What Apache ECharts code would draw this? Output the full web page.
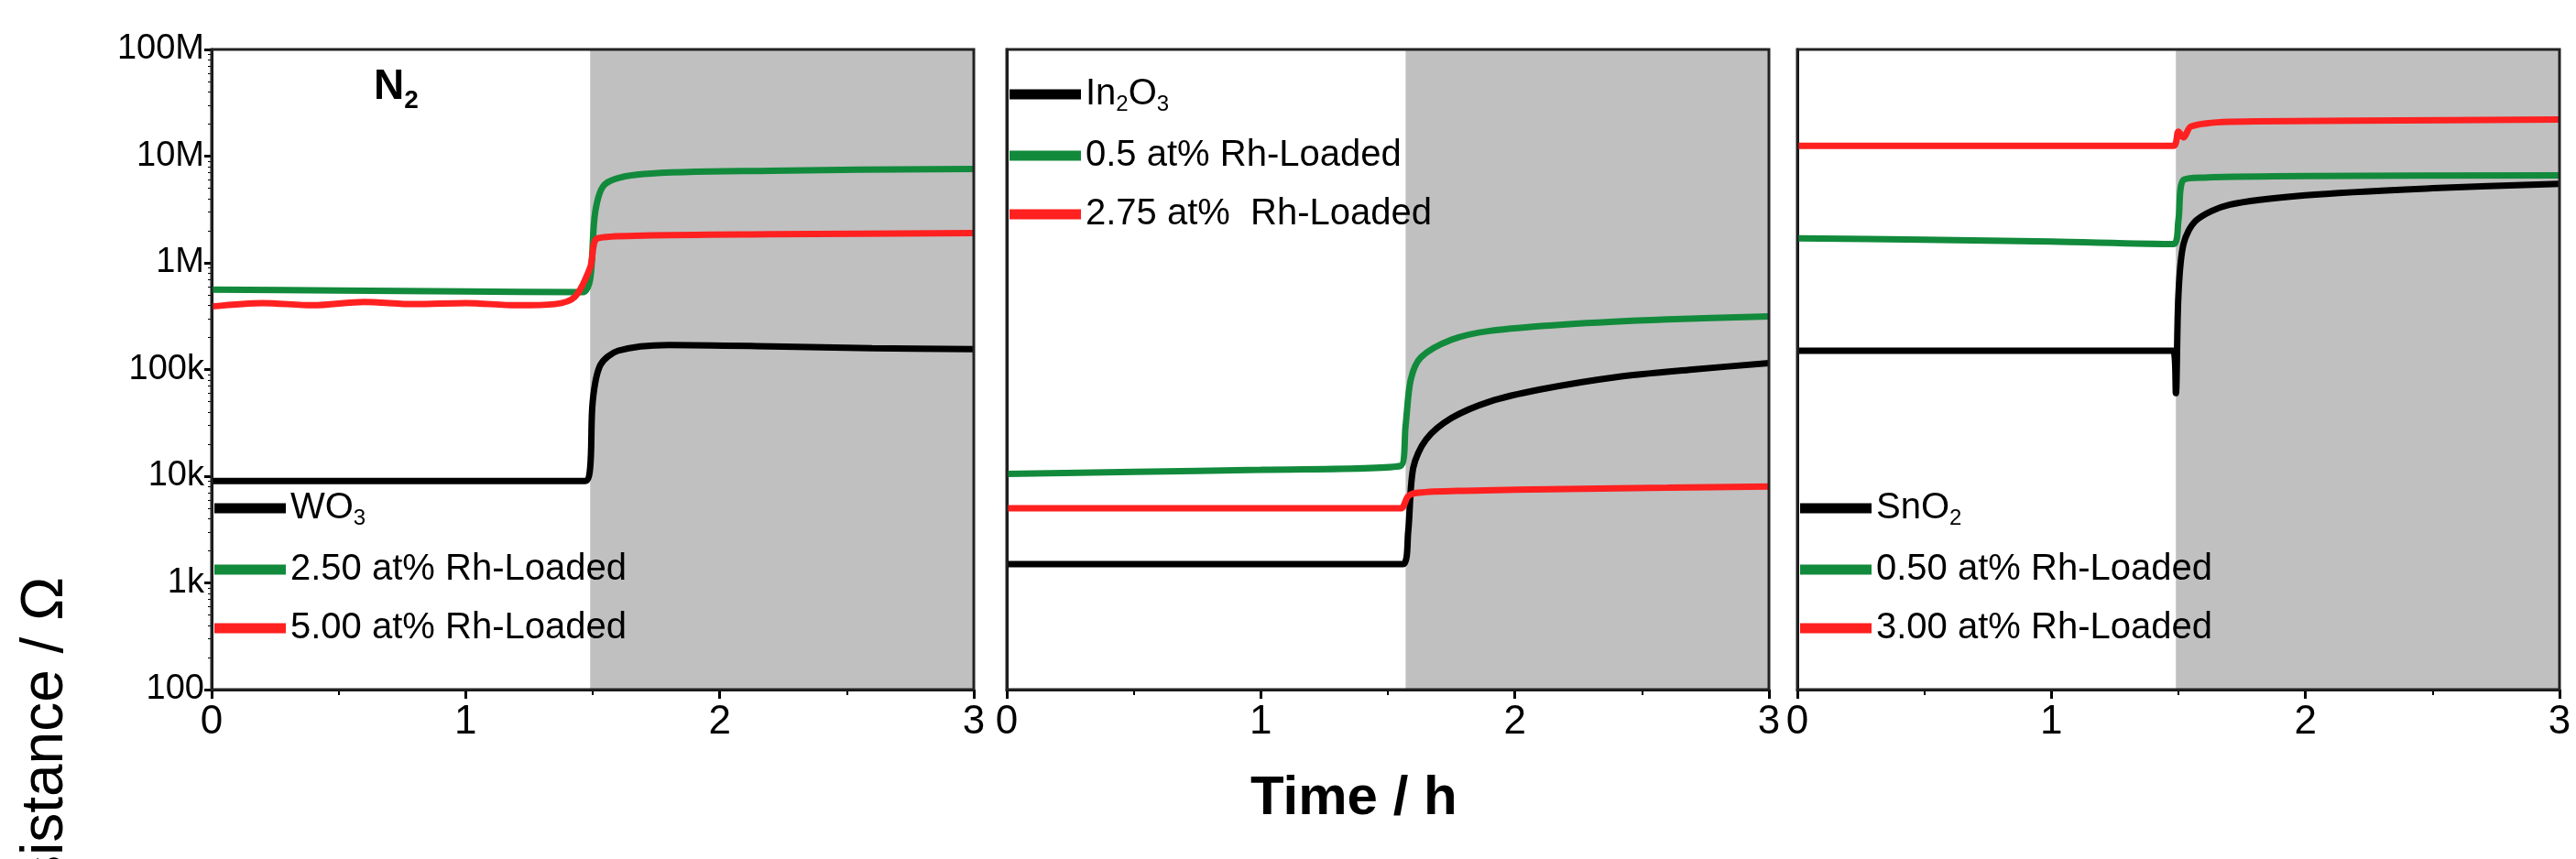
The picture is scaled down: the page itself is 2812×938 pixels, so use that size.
<!DOCTYPE html>
<html><head><meta charset="utf-8">
<script src="https://cdn.jsdelivr.net/npm/echarts@6/dist/echarts.min.js"></script>
<style>html,body{margin:0;background:#fff}#c{width:2812px;height:938px}</style>
</head><body><div id="c"></div>
<script>
// Panel (a) WO3
const a_wo3 = [[0,9000],[0.5,9000],[1,9000],[1.47,9000],[1.49,12000],[1.5,50000],[1.53,110000],[1.6,150000],[1.8,170000],[2.2,165000],[2.6,158000],[3,155000]];
const a_rh250 = [[0,560000],[0.5,550000],[1,540000],[1.46,530000],[1.49,700000],[1.51,3000000],[1.55,5500000],[1.7,6800000],[2.2,7300000],[3,7600000]];
const a_rh500 = [[0,390000],[0.2,420000],[0.4,400000],[0.6,430000],[0.8,410000],[1.0,420000],[1.2,400000],[1.35,410000],[1.43,480000],[1.49,900000],[1.52,1700000],[1.7,1800000],[2.2,1850000],[3,1900000]];
// Panel (b) In2O3
const b_in2o3 = [[0,1500],[0.5,1500],[1,1500],[1.56,1500],[1.58,3000],[1.6,12000],[1.65,22000],[1.75,35000],[1.9,50000],[2.1,65000],[2.4,85000],[2.7,100000],[3,115000]];
const b_rh05 = [[0,10500],[0.5,11000],[1,11500],[1.55,12500],[1.57,30000],[1.59,80000],[1.63,130000],[1.75,190000],[1.9,230000],[2.2,265000],[2.6,295000],[3,315000]];
const b_rh275 = [[0,5000],[0.5,5000],[1,5000],[1.55,5000],[1.58,6500],[1.62,7000],[1.8,7300],[2.2,7600],[2.6,7800],[3,8000]];
// Panel (c) SnO2
const c_sno2 = [[0,150000],[0.5,150000],[1,150000],[1.48,150000],[1.49,60000],[1.5,500000],[1.52,1500000],[1.57,2500000],[1.7,3500000],[2.0,4300000],[2.5,5000000],[3,5500000]];
const c_rh050 = [[0,1700000],[0.5,1650000],[1,1580000],[1.48,1500000],[1.5,2500000],[1.52,6000000],[1.6,6300000],[2,6500000],[3,6600000]];
const c_rh300 = [[0,12500000],[0.5,12500000],[1,12500000],[1.48,12500000],[1.5,17000000],[1.52,15000000],[1.55,19000000],[1.7,21000000],[2.2,21500000],[3,22000000]];
const yTicks = {100:'100',1000:'1k',10000:'10k',100000:'100k',1000000:'1M',10000000:'10M',100000000:'100M'};
const airStart = [1.49, 1.57, 1.49];
const names = [['WO{s|3}','2.50 at% Rh-Loaded','5.00 at% Rh-Loaded'],
               ['In{s|2}O{s|3}','0.5 at% Rh-Loaded','2.75 at%  Rh-Loaded'],
               ['SnO{s|2}','0.50 at% Rh-Loaded','3.00 at% Rh-Loaded']];
const data = [[a_wo3,a_rh250,a_rh500],[b_in2o3,b_rh05,b_rh275],[c_sno2,c_rh050,c_rh300]];
const colors = ['#000000','#128a3c','#ff2020'];
const lefts = [231,1099,1962], W = 832, gTop = 54, H = 699;
const F = 'Liberation Sans, Arial, sans-serif';
const grid=[],xAxis=[],yAxis=[],series=[],legend=[];
for (let p=0;p<3;p++){
  grid.push({left:lefts[p],top:gTop,width:W,height:H});
  xAxis.push({gridIndex:p,type:'value',min:0,max:3,interval:1,
    axisLine:{onZero:false,lineStyle:{color:'#000',width:3}},
    axisTick:{show:true,length:10,inside:false,lineStyle:{width:3}},
    minorTick:{show:true,splitNumber:2,length:6,lineStyle:{color:'#000',width:2}},
    splitLine:{show:false},
    axisLabel:{color:'#000',fontSize:44,fontFamily:F,margin:14}});
  yAxis.push({gridIndex:p,type:'log',min:100,max:1e8,logBase:10,
    axisLine:{show:true,lineStyle:{color:'#000',width:3}},
    axisTick:{show:p===0,length:8,lineStyle:{width:3}},
    minorTick:{show:p===0,splitNumber:9,length:4,lineStyle:{color:'#000'}},
    splitLine:{show:false},
    axisLabel:{show:p===0,color:'#000',fontSize:38,fontFamily:F,formatter:v=>yTicks[Math.round(v)]||''}});
  series.push({type:'line',xAxisIndex:p,yAxisIndex:p,data:[],silent:true,
    markArea:{silent:true,itemStyle:{color:'#c0c0c0'},data:[[{xAxis:airStart[p],yAxis:100},{xAxis:3,yAxis:1e8}]]}});
  const names_p=[];
  for (let s=0;s<3;s++){
    const nm = names[p][s];
    names_p.push(nm);
    series.push({name:nm,type:'line',xAxisIndex:p,yAxisIndex:p,data:data[p][s],
      showSymbol:false,smooth:0.3,lineStyle:{color:colors[s],width:7},itemStyle:{color:colors[s]},z:3});
  }
  const legTop = p===1 ? 78 : 530;
  legend.push({data:names_p,left:lefts[p]-2,top:legTop,orient:'vertical',itemGap:24,
    icon:'rect',itemWidth:78,itemHeight:11,
    textStyle:{fontSize:40,fontFamily:F,color:'#000',rich:{s:{fontSize:24,verticalAlign:'bottom',padding:[22,0,0,0],fontFamily:F}}}});
}
const chart = echarts.init(document.getElementById('c'));
chart.setOption({
  backgroundColor:'#fff', animation:false,
  grid, xAxis, yAxis, series, legend,
  graphic:[
    ...lefts.map(l=>({type:'rect',shape:{x:l,y:gTop,width:W,height:H},style:{fill:'none',stroke:'#222',lineWidth:3},z:100})),
    {type:'text',left:408,top:72,style:{text:'N{s|2}',font:'bold 46px '+F,fill:'#000',rich:{s:{font:'bold 28px '+F,padding:[30,0,0,0]}}}},
    {type:'text',left:685,top:72,style:{text:'Synthetic Air',font:'bold 46px '+F,fill:'#000'}},
    {type:'text',left:930,top:620,style:{text:'(a)',font:'96px '+F,fill:'#000'}},
    {type:'text',left:1775,top:620,style:{text:'(b)',font:'96px '+F,fill:'#000'}},
    {type:'text',left:2648,top:620,style:{text:'(c)',font:'96px '+F,fill:'#000'}},
    {type:'text',left:1365,top:842,style:{text:'Time / h',font:'bold 60px '+F,fill:'#000'}},
    {type:'text',left:18,top:630,rotation:Math.PI/2,style:{text:'Resistance / Ω',font:'64px '+F,fill:'#000'}}
  ]
});
</script></body></html>
